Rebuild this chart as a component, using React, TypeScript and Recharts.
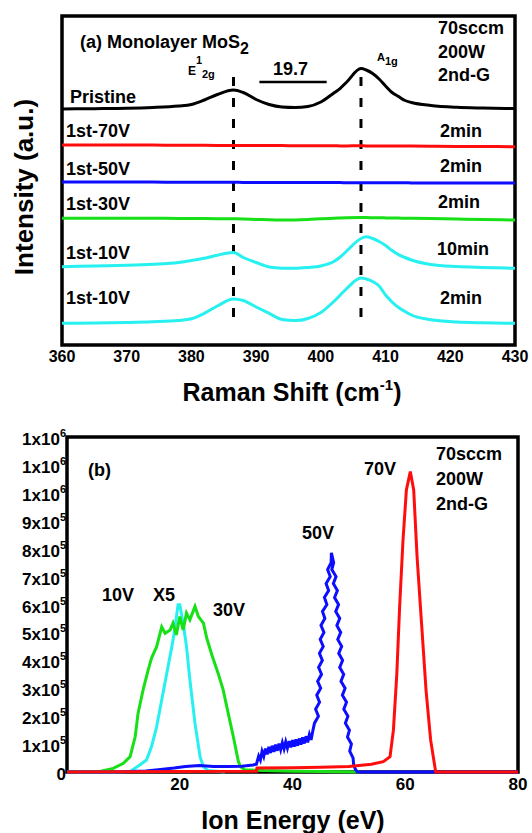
import React from 'react'
import { LineChart, Line, XAxis, YAxis, ReferenceArea, ReferenceLine } from 'recharts'

const FONT = '"Liberation Sans", Arial, Helvetica, sans-serif'

// ---- panel (a): Raman spectra (stacked traces, arbitrary units) ----
const ramanShift = [360, 365, 370, 374, 378, 380, 382, 384, 386.5, 388, 390, 392, 394, 396, 398, 400, 402, 403, 404, 406.2, 407, 408, 409, 410, 411, 412, 413, 414, 417, 421, 425, 430]
const pristine = [235, 235.3, 235.7, 236.5, 238, 239.5, 244, 249.5, 254, 251.5, 244.5, 239.5, 237, 236.5, 237.5, 242, 251, 255.7, 262, 275.4, 274, 270.5, 265, 258, 251.5, 247.5, 243.5, 241.5, 238.5, 236.7, 236, 235.5]
const first70V = [199, 199, 198.9, 198.9, 198.8, 198.8, 198.7, 198.6, 198.6, 198.5, 198.5, 198.4, 198.4, 198.3, 198.3, 198.2, 198.2, 198.1, 198.1, 198.2, 198.1, 198.1, 198, 198, 198, 197.9, 197.9, 197.9, 197.8, 197.6, 197.5, 197.3]
const first50V = [162, 162, 161.9, 161.9, 161.8, 161.8, 161.8, 161.7, 161.7, 161.6, 161.6, 161.6, 161.5, 161.5, 161.5, 161.4, 161.4, 161.4, 161.3, 161.3, 161.3, 161.3, 161.3, 161.2, 161.2, 161.2, 161.2, 161.1, 161.1, 161, 161, 161]
const first30V = [125.7, 125.8, 125.8, 125.7, 125.6, 125.5, 125.4, 125.3, 125.2, 125, 124.6, 124.2, 124, 124.1, 124.5, 125.2, 125.8, 126, 126.2, 126.4, 126.4, 126.3, 126.2, 126.1, 126, 125.9, 125.8, 125.7, 125.4, 125, 124.5, 124]
const first10V10min = [77.3, 78, 78.7, 79.7, 81.5, 83.5, 85.7, 88.8, 91.5, 86.5, 81.5, 77, 75.8, 75.7, 76.5, 78, 82.5, 87, 93, 105.5, 107.3, 105.5, 102.5, 98.5, 93.5, 89.4, 86.5, 84, 79.5, 77.4, 76.5, 75.7]
const first10V2min = [20.7, 21, 21.5, 22.2, 23.5, 25.2, 30.7, 38, 45, 43.5, 37, 30.7, 24.5, 23.4, 25.5, 31.5, 42.5, 49, 55.5, 66, 65, 62.5, 58, 49, 42, 36.5, 32.5, 29, 24.2, 22, 21.2, 20.7]
const ramanTicks = [360, 370, 380, 390, 400, 410, 420, 430]
const e2gPos = 386.5
const a1gPos = 406.2

const ramanData = ramanShift.map((x, i) => ({
  x,
  pristine: pristine[i],
  v70: first70V[i],
  v50: first50V[i],
  v30: first30V[i],
  v10a: first10V10min[i],
  v10b: first10V2min[i],
}))

// ---- panel (b): ion energy distributions, flux in units of 1e5 ----
const cyanX5: [number, number][] = [[0, 0], [8, 0], [11.2, 0.02], [12.9, 0.25], [14.1, 0.43], [15, 0.91], [15.9, 1.62], [16.8, 2.58], [17.7, 3.54], [18.6, 4.49], [19.1, 5.09], [19.7, 5.99], [20, 5.99], [20.6, 5.33], [21.2, 4.49], [21.8, 3.3], [22.7, 1.75], [23.6, 0.55], [24.2, 0.19], [25, 0.05], [28, 0]]
const green10V: [number, number][] = [[0, 0], [4, 0], [6, 0.03], [8.2, 0.13], [10, 0.31], [11.2, 0.55], [12.1, 1.27], [12.6, 2.1], [13.5, 2.94], [14.4, 3.66], [15, 4.08], [15.9, 4.49], [16.8, 5.2], [17.4, 4.97], [18.3, 5.09], [18.8, 5.33], [19.4, 4.91], [20, 5.57], [20.6, 5.09], [21.2, 5.69], [21.8, 5.45], [22.7, 5.93], [23.3, 5.57], [24.2, 5.33], [24.8, 4.79], [25.7, 4.19], [26.8, 3.54], [27.7, 2.94], [28.6, 2.1], [29.5, 1.27], [30.4, 0.37], [30.8, 0.19], [31.5, 0.08], [35, 0.05], [40, 0.03], [45, 0.02], [52, 0]]
// noisy trace: read as a zig-zag between the two edges of the band
const blue50V: [number, number][] = [[0, 0], [5, 0], [10, 0.01], [14, 0.04], [17, 0.1], [19, 0.14], [21, 0.2], [23.5, 0.23], [26, 0.2], [28.5, 0.2], [31, 0.21], [33, 0.25], [33.6, 0.28],
  [34, 0.57], [34.3, 0.43], [34.6, 0.74], [34.9, 0.56], [35.2, 0.84], [35.5, 0.63], [35.8, 0.9], [36.1, 0.68], [36.4, 0.94], [36.7, 0.72], [37, 0.98], [37.3, 0.76], [37.6, 1.02], [37.9, 0.8], [38.2, 1.05], [38.5, 0.83], [38.8, 1.08], [39.1, 0.86], [39.4, 1.11], [39.7, 0.88], [40, 1.14], [40.3, 0.91], [40.6, 1.17], [40.9, 0.94], [41.2, 1.2], [41.5, 0.98], [41.8, 1.24], [42.1, 1.02], [42.4, 1.28], [42.7, 1.06], [43, 1.34], [43.3, 1.15], [43.6, 1.47],
  [43.9, 1.75], [44.6, 2.0], [44.1, 2.25], [44.8, 2.5], [44.3, 2.75], [45, 3.0], [44.46, 3.25], [45.15, 3.5], [44.63, 3.75], [45.3, 4.0], [44.78, 4.25], [45.45, 4.5], [44.92, 4.75], [45.58, 5.0], [45.05, 5.25], [45.74, 5.5], [45.32, 5.75], [46.1, 6.0], [45.66, 6.25], [46.41, 6.5], [45.96, 6.75], [46.69, 7.0], [46.23, 7.25], [46.85, 7.5], [46.9, 7.85],
  [47.3, 7.5], [46.97, 7.25], [47.72, 7.0], [47.25, 6.75], [47.96, 6.5], [47.46, 6.25], [48.17, 6.0], [47.67, 5.75], [48.38, 5.5], [47.87, 5.25], [48.55, 5.0], [48.03, 4.75], [48.72, 4.5], [48.2, 4.25], [48.89, 4.0], [48.37, 3.75], [49.08, 3.5], [48.6, 3.25], [49.33, 3.0], [48.85, 2.75], [49.58, 2.5], [49.1, 2.25], [49.83, 2.0], [49.38, 1.75], [50.1, 1.5], [49.75, 1.25], [50.45, 1.0], [50.15, 0.75], [50.75, 0.5], [50.85, 0.25], [51.15, 0.1], [51.5, 0], [55, 0], [60, 0], [65, 0], [70, 0], [80, 0]]
const red70V: [number, number][] = [[0, 0], [10, 0.01], [20, 0.02], [33.6, 0.03], [33.7, 0.14], [40, 0.15], [45, 0.17], [50, 0.2], [54, 0.28], [56.1, 0.37], [57.3, 0.55], [57.9, 1.5], [58.5, 3.5], [59, 5.9], [59.6, 8.3], [60.2, 10.1], [60.9, 10.76], [61.5, 10.1], [62.1, 7.7], [62.9, 5.3], [63.7, 2.9], [64.5, 1.15], [65.4, 0], [80, 0]]
const energyTicks = [20, 40, 60, 80]
const fluxTicks = [0, 1, 2, 3, 4, 5, 6, 7, 8, 9, 10, 11, 12]
const fluxTickMantissa = ['0', '1x10', '2x10', '3x10', '4x10', '5x10', '6x10', '7x10', '8x10', '9x10', '1x10', '1x10', '1x10']
const fluxTickExponent = ['', '5', '5', '5', '5', '5', '5', '5', '5', '5', '6', '6', '6']

const toPoints = (arr: [number, number][]) => arr.map(([x, y]) => ({ x, y }))

function Note({ x, cy, size = 18, children }: { x: number; cy: number; size?: number; children: React.ReactNode }) {
  return (
    <div style={{ position: 'absolute', left: x, top: cy - size * 0.49, fontSize: size, lineHeight: 1, fontWeight: 700, fontFamily: FONT, whiteSpace: 'nowrap', color: '#000' }}>
      {children}
    </div>
  )
}

function FluxTick(props: any) {
  const { x, y, payload } = props
  const i = fluxTicks.indexOf(payload.value)
  return (
    <text x={x + 7} y={y + 8} textAnchor="end" fontFamily={FONT} fontWeight={700} fontSize={17} fill="#000">
      {fluxTickMantissa[i]}
      {fluxTickExponent[i] && <tspan dy={-8} fontSize={11}>{fluxTickExponent[i]}</tspan>}
    </text>
  )
}

const tickStyle = (size: number) => ({ fill: '#000', fontSize: size, fontWeight: 700, fontFamily: FONT })

export default function App() {
  const cols = { red: '#ff0d0d', blue: '#0d0dff', green: '#17e017', cyan: '#26f0f0' }
  return (
    <div style={{ position: 'absolute', left: 0, top: 0, width: 532, height: 833, background: '#fff', fontFamily: FONT }}>
      {/* (a) Raman */}
      <div style={{ position: 'absolute', left: 0, top: 0 }}>
        <LineChart width={532} height={420} data={ramanData} margin={{ top: 16, right: 17, bottom: 45, left: 62 }}>
          <XAxis type="number" dataKey="x" domain={[360, 430]} ticks={ramanTicks} height={30} axisLine={false} tickLine={false} tickSize={6} tickMargin={0} tick={tickStyle(16)} />
          <YAxis hide type="number" domain={[-1, 328]} />
          <ReferenceLine segment={[{ x: e2gPos, y: 27 }, { x: e2gPos, y: 268 }]} stroke="#000" strokeWidth={3} strokeDasharray="9 12" />
          <ReferenceLine segment={[{ x: a1gPos, y: 27 }, { x: a1gPos, y: 268 }]} stroke="#000" strokeWidth={3} strokeDasharray="9 12" />
          <ReferenceLine segment={[{ x: 390.5, y: 262 }, { x: 400.9, y: 262 }]} stroke="#000" strokeWidth={2.5} />
          <Line type="monotone" dataKey="pristine" stroke="#000" strokeWidth={3} dot={false} isAnimationActive={false} />
          <Line type="monotone" dataKey="v70" stroke={cols.red} strokeWidth={3} dot={false} isAnimationActive={false} />
          <Line type="monotone" dataKey="v50" stroke={cols.blue} strokeWidth={3} dot={false} isAnimationActive={false} />
          <Line type="monotone" dataKey="v30" stroke={cols.green} strokeWidth={3} dot={false} isAnimationActive={false} />
          <Line type="monotone" dataKey="v10a" stroke={cols.cyan} strokeWidth={3} dot={false} isAnimationActive={false} />
          <Line type="monotone" dataKey="v10b" stroke={cols.cyan} strokeWidth={3} dot={false} isAnimationActive={false} />
          <ReferenceArea x1={360} x2={430} y1={-1} y2={328} fill="none" stroke="#000" strokeWidth={3.5} />
        </LineChart>
      </div>
      <Note x={80} cy={41.5}>(a)</Note>
      <Note x={107} cy={41.5}>Monolayer MoS<span style={{ fontSize: 16, position: 'relative', top: 6 }}>2</span></Note>
      <Note x={188} cy={71} size={12}>E</Note>
      <Note x={196} cy={60} size={11}>1</Note>
      <Note x={202} cy={74} size={11}>2g</Note>
      <Note x={273} cy={69}>19.7</Note>
      <Note x={377} cy={57} size={11}>A</Note>
      <Note x={385} cy={61} size={11}>1g</Note>
      <Note x={438} cy={28}>70sccm</Note>
      <Note x={438} cy={52}>200W</Note>
      <Note x={438} cy={75}>2nd-G</Note>
      <Note x={70} cy={96.5}>Pristine</Note>
      <Note x={66} cy={131}>1st-70V</Note>
      <Note x={440} cy={131}>2min</Note>
      <Note x={66} cy={169}>1st-50V</Note>
      <Note x={440} cy={166}>2min</Note>
      <Note x={66} cy={204}>1st-30V</Note>
      <Note x={438} cy={202}>2min</Note>
      <Note x={66} cy={253}>1st-10V</Note>
      <Note x={437} cy={249}>10min</Note>
      <Note x={66} cy={298}>1st-10V</Note>
      <Note x={440} cy={298}>2min</Note>
      <div style={{ position: 'absolute', left: 24, top: 187, transform: 'translate(-50%, -50%) rotate(-90deg)', fontSize: 26, fontWeight: 700, whiteSpace: 'nowrap', lineHeight: 1 }}>
        Intensity (a.u.)
      </div>
      <div style={{ position: 'absolute', left: 292, top: 392, transform: 'translate(-50%, -50%)', fontSize: 25, fontWeight: 700, whiteSpace: 'nowrap', lineHeight: 1 }}>
        Raman Shift (cm<sup style={{ fontSize: 15, verticalAlign: 'top', position: 'relative', top: -3 }}>-1</sup>)
      </div>

      {/* (b) Ion energy */}
      <div style={{ position: 'absolute', left: 0, top: 400 }}>
        <LineChart width={532} height={433} margin={{ top: 37, right: 14, bottom: 31, left: 0 }}>
          <XAxis type="number" dataKey="x" domain={[0, 80]} ticks={energyTicks} height={30} axisLine={false} tickLine={false} tickSize={4} tickMargin={2} tick={tickStyle(17)} allowDuplicatedCategory={false} />
          <YAxis type="number" domain={[0, 12]} ticks={fluxTicks} width={67} axisLine={false} tickLine={false} tick={<FluxTick />} interval={0} />
          <Line data={toPoints(cyanX5)} type="linear" dataKey="y" stroke={cols.cyan} strokeWidth={3} dot={false} isAnimationActive={false} />
          <Line data={toPoints(green10V)} type="linear" dataKey="y" stroke={cols.green} strokeWidth={3} dot={false} isAnimationActive={false} />
          <Line data={toPoints(blue50V)} type="linear" dataKey="y" stroke={cols.blue} strokeWidth={3} dot={false} isAnimationActive={false} />
          <Line data={toPoints(red70V)} type="linear" dataKey="y" stroke={cols.red} strokeWidth={3} dot={false} isAnimationActive={false} />
          <ReferenceArea x1={0} x2={80} y1={0} y2={12} fill="none" stroke="#000" strokeWidth={3.5} />
        </LineChart>
      </div>
      <Note x={88} cy={470}>(b)</Note>
      <Note x={436} cy={454}>70sccm</Note>
      <Note x={436} cy={479}>200W</Note>
      <Note x={436} cy={504}>2nd-G</Note>
      <Note x={364} cy={469}>70V</Note>
      <Note x={302} cy={533}>50V</Note>
      <Note x={102} cy={595}>10V</Note>
      <Note x={153} cy={595}>X5</Note>
      <Note x={213} cy={610}>30V</Note>
      <div style={{ position: 'absolute', left: 293, top: 820, transform: 'translate(-50%, -50%)', fontSize: 25, fontWeight: 700, whiteSpace: 'nowrap', lineHeight: 1 }}>
        Ion Energy (eV)
      </div>
    </div>
  )
}
